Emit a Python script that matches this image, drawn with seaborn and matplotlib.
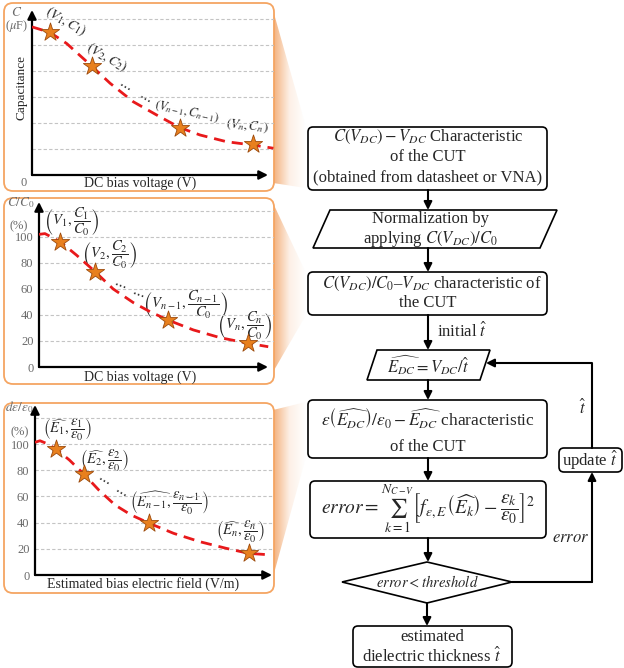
import numpy as np
import matplotlib.pyplot as plt
import seaborn as sns
from matplotlib.patches import FancyBboxPatch, Polygon
from matplotlib.colors import LinearSegmentedColormap

# ---- data (x: 0 = origin, 100 = arrow tip) ----
cap_curve_x = [0, 7.6, 14.7, 25.3, 33.1, 42.9, 52.8, 62.7, 71.2, 82.5, 93.8, 102.3]
cap_curve_y = [5.70, 5.49, 5.06, 4.19, 3.53, 2.82, 2.31, 1.82, 1.54, 1.28, 1.15, 1.03]
cap_star_x = [7.6, 25.4, 62.7, 93.6]
cap_star_y = [5.50, 4.19, 1.81, 1.19]

norm_curve_x = [0, 2.6, 9.2, 16.4, 24.5, 32.4, 41.2, 48.5, 56.5, 67.4, 79.0, 91.4, 100.1]
norm_curve_y = [102, 102.6, 96.4, 86, 73.3, 60, 49.5, 42.5, 36, 28.5, 22.6, 18.2, 15.6]
norm_star_x = [9.2, 24.5, 56.3, 91.3]
norm_star_y = [96, 73, 36, 18.5]

eps_curve_x = [0, 2.1, 4.8, 8.7, 14.5, 20.7, 26.9, 33.8, 40.6, 48.2, 58.5, 69.6, 80.6, 90.2, 99.9]
eps_curve_y = [101.3, 102.5, 100.5, 96.4, 87.8, 76.9, 64.9, 53.4, 45.8, 39.5, 31.8, 25.4, 20.4, 16.5, 15.3]
eps_star_x = [8.7, 20.7, 48.3, 90.1]
eps_star_y = [96.2, 77.1, 39.7, 16.8]

pct_ticks = [0, 20, 40, 60, 80, 100]
pct_grid = [20, 40, 60, 80, 100, 120]
cap_grid = [1, 2, 3, 4, 5, 6]

# ---- style ----
sns.set_theme(style='white')
plt.rcParams['font.family'] = ['Liberation Serif', 'DejaVu Serif']
plt.rcParams['mathtext.fontset'] = 'stix'

W, H = 624, 668
ORANGE = '#f5a562'
STAR_FC = '#e8801e'
STAR_EC = '#9c4a0c'
GRAY = '#6a6a6a'
FS = 12

fig = plt.figure(figsize=(W / 100, H / 100), dpi=100)
bg = fig.add_axes([0, 0, 1, 1])
bg.set_xlim(0, W)
bg.set_ylim(H, 0)
bg.axis('off')

# orange wedges linking panels to flowchart
wedge_cmap = LinearSegmentedColormap.from_list('wedge', ['#f3b07c', '#fdf0e6', '#ffffff'])
grad = np.linspace(0, 1, 64).reshape(1, -1)
wedges = [
    [(273, 10), (306, 127), (306, 188), (273, 183)],
    [(273, 203), (306, 273), (306, 315), (273, 372)],
    [(273, 410), (306, 402), (306, 457), (273, 577)],
]
for pts in wedges:
    poly = Polygon(pts, closed=True, fc='none', ec='none')
    bg.add_patch(poly)
    im = bg.imshow(grad, cmap=wedge_cmap, extent=(273, 306, 600, 0), aspect='auto', zorder=0)
    im.set_clip_path(poly)
bg.set_xlim(0, W)
bg.set_ylim(H, 0)

# panel frames
for (x0, y0, x1, y1) in [(4, 3, 274, 191), (4, 198, 274, 384), (4, 403, 274, 593)]:
    bg.add_patch(FancyBboxPatch((x0, y0), x1 - x0, y1 - y0,
                                boxstyle='round,pad=0,rounding_size=9',
                                fc='white', ec=ORANGE, lw=1.3, zorder=1))


def panel(yaxis, xaxis, top, right, tip, ytop, grid, ticks):
    ax = fig.add_axes([yaxis / W, 1 - xaxis / H, (right - yaxis) / W, (xaxis - top) / H])
    ax.set_xlim(0, 100 * (right - yaxis) / (tip - yaxis))
    ax.set_ylim(0, ytop)
    ax.patch.set_alpha(0)
    for s in ax.spines.values():
        s.set_visible(False)
    ax.set_xticks([])
    ax.set_yticks(ticks)
    ax.tick_params(axis='y', length=0, labelsize=9, labelcolor=GRAY, pad=4)
    for g in grid:
        ax.axhline(g, color='#c4c4c4', ls=(0, (3, 2)), lw=0.8, zorder=0)
    arr = dict(arrowstyle='-|>', color='black', lw=1.6, mutation_scale=13, shrinkA=0, shrinkB=0)
    ax.annotate('', xy=(100, 0), xytext=(0, 0), arrowprops=arr, annotation_clip=False)
    ax.annotate('', xy=(0, ytop), xytext=(0, 0), arrowprops=arr, annotation_clip=False)
    return ax


def draw_curve(ax, cx, cy, sx, sy):
    sns.lineplot(x=cx, y=cy, ax=ax, sort=False, color='#e8191b', lw=2.0,
                 linestyle=(0, (4, 2.5)), zorder=3)
    sns.scatterplot(x=sx, y=sy, ax=ax, marker='*', s=190, color=STAR_FC,
                    edgecolor=STAR_EC, linewidth=0.6, zorder=4)


ax1 = panel(32, 175, 10, 274, 268, 6.35, cap_grid, [])
draw_curve(ax1, cap_curve_x, cap_curve_y, cap_star_x, cap_star_y)
ax2 = panel(39, 367, 202, 274, 268, 126.9, pct_grid, pct_ticks)
draw_curve(ax2, norm_curve_x, norm_curve_y, norm_star_x, norm_star_y)
ax3 = panel(35, 575, 405, 274, 272, 129.8, pct_grid, pct_ticks)
draw_curve(ax3, eps_curve_x, eps_curve_y, eps_star_x, eps_star_y)

# panel labels
def t(x, y, s, size=9.5, **kw):
    kw.setdefault('ha', 'center')
    kw.setdefault('va', 'center')
    return bg.text(x, y, s, fontsize=size, zorder=6, **kw)

t(17, 12, r'$C$', 9.5, color=GRAY)
t(17, 26, r'($\mu$F)', 9, color=GRAY)
t(22, 88, 'Capacitance', 9.5, rotation=90)
t(24, 183, '0', 9, color=GRAY)
t(140, 183, 'DC bias voltage (V)', 10)
t(66, 22, r'$(V_1, C_1)$', 10, rotation=-30)
t(107, 58, r'$(V_2, C_2)$', 10, rotation=-30)
t(125, 85, r'$\cdots$', 10, rotation=-30, fontweight='bold')
t(145, 97, r'$\cdots$', 10, rotation=-30, fontweight='bold')
t(187, 112, r'$(V_{n-1}, C_{n-1})$', 9, rotation=-12)
t(247, 126, r'$(V_n, C_n)$', 9.5, rotation=-6)

t(21, 203, r'$C/C_0$', 9.5, color=GRAY)
t(19, 226, '(%)', 9, color=GRAY)
t(140, 377, 'DC bias voltage (V)', 10)
t(72, 222, r'$\left(V_1,\dfrac{C_1}{C_0}\right)$', 10.5)
t(110, 255, r'$\left(V_2,\dfrac{C_2}{C_0}\right)$', 10.5)
t(120, 284, r'$\cdots$', 10, rotation=-20)
t(138, 293, r'$\cdots$', 10, rotation=-20)
t(186, 305, r'$\left(V_{n-1},\dfrac{C_{n-1}}{C_0}\right)$', 10.5)
t(245, 326, r'$\left(V_n,\dfrac{C_n}{C_0}\right)$', 10.5)

t(19, 407, r'$d\varepsilon/\varepsilon_0$', 9.5, color=GRAY)
t(20, 432, '(%)', 9, color=GRAY)
t(143, 584, 'Estimated bias electric field (V/m)', 10)
t(67, 430, r'$\left(\widehat{E_1},\dfrac{\varepsilon_1}{\varepsilon_0}\right)$', 10.5)
t(104, 461, r'$\left(\widehat{E_2},\dfrac{\varepsilon_2}{\varepsilon_0}\right)$', 10.5)
t(104, 479, r'$\cdots$', 10, rotation=-30)
t(121, 491, r'$\cdots$', 10, rotation=-30)
t(170, 503, r'$\left(\widehat{E_{n-1}},\dfrac{\varepsilon_{n-1}}{\varepsilon_0}\right)$', 10.5)
t(240, 532, r'$\left(\widehat{E_n},\dfrac{\varepsilon_n}{\varepsilon_0}\right)$', 10.5)

# ---- flowchart ----
def rbox(x0, y0, x1, y1, r=5):
    bg.add_patch(FancyBboxPatch((x0, y0), x1 - x0, y1 - y0,
                                boxstyle=f'round,pad=0,rounding_size={r}',
                                fc='white', ec='black', lw=1.2, zorder=2))


def shape(pts):
    bg.add_patch(Polygon(pts, closed=True, fc='white', ec='black', lw=1.2, zorder=2))


def arrow(x0, y0, x1, y1):
    bg.annotate('', xy=(x1, y1), xytext=(x0, y0),
                arrowprops=dict(arrowstyle='-|>', color='black', lw=1.5,
                                mutation_scale=12, shrinkA=0, shrinkB=0), zorder=3)


rbox(308, 127, 547, 190)
t(428, 137, r'$C(V_{DC})-V_{DC}$ Characteristic', FS)
t(428, 157, 'of the CUT', FS)
t(428, 177, '(obtained from datasheet or VNA)', FS)
arrow(428, 190, 428, 210)

shape([(330, 210), (557, 210), (540, 248), (313, 248)])
t(430, 219, 'Normalization by', FS)
t(430, 239, r'applying $C(V_{DC})/C_0$', FS)
arrow(428, 248, 428, 272)

rbox(308, 272, 547, 315)
t(432, 284, r'$C(V_{DC})/C_0$–$V_{DC}$ characteristic of', FS)
t(428, 303, 'the CUT', FS)
arrow(428, 315, 428, 350)
t(437, 331, r'initial $\hat{t}$', FS, ha='left')

shape([(377, 350), (490, 350), (480, 380), (367, 380)])
t(428, 365, r'$\widehat{E_{DC}}=V_{DC}/\hat{t}$', 12)
arrow(428, 380, 428, 400)

rbox(308, 400, 547, 458)
t(428, 418, r'$\varepsilon\left(\widehat{E_{DC}}\right)/\varepsilon_0-\widehat{E_{DC}}$ characteristic', 12.5)
t(428, 447, 'of the CUT', FS)
arrow(428, 458, 428, 481)

rbox(310, 481, 546, 538)
t(428, 509, r'$error=\sum_{k=1}^{N_{C-V}}\left[f_{\varepsilon,E}\left(\widehat{E_k}\right)-\dfrac{\varepsilon_k}{\varepsilon_0}\right]^2$', 14)
arrow(428, 538, 428, 562)

shape([(342, 582), (427, 562), (512, 582), (427, 603)])
t(427, 582, r'$error<threshold$', 10.5)
arrow(427, 603, 427, 626)

rbox(353, 626, 512, 667)
t(432, 637, 'estimated', FS)
t(432, 656, r'dielectric thickness $\hat{t}$', FS)

# feedback loop
bg.plot([512, 592], [582, 582], color='black', lw=1.5, zorder=2)
arrow(592, 582, 592, 472)
rbox(559, 448, 622, 472)
t(590, 460, r'update $\hat{t}$', FS)
bg.plot([592, 592, 500], [448, 363, 363], color='black', lw=1.5, zorder=2)
arrow(500, 363, 486, 363)
t(583, 408, r'$\hat{t}$', 12)
t(571, 538, r'$error$', FS)

fig.savefig('out.png', dpi=100)
